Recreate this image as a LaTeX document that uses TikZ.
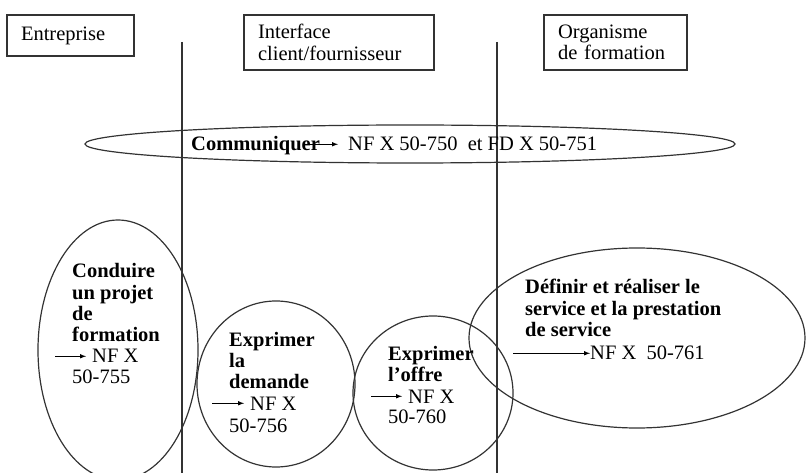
\documentclass[tikz,border=0pt]{standalone}
\usepackage{fontspec}
\setmainfont{Liberation Serif}
\usetikzlibrary{arrows,shapes,positioning}
\newcommand{\tailletexte}{\fontsize{20.5}{21.5}\selectfont}
\tikzset{
    cadre/.style={
           rectangle,
           draw=black!80, line width=1.2pt,
           align=left,
           inner xsep=14pt,
           inner ysep=0pt,
           },
    bulle/.style={
           ellipse,
           draw=black!80, line width=1.2pt,
           inner sep=0,
           },
    pil/.style={
           -latex,
           line width=1pt,
           shorten >=6pt,
           },
    titre/.style={
           font=\tailletexte\bfseries,
           align=left,
           anchor=base west,
           inner sep=0,
           },
    norme/.style={
           font=\tailletexte,
           anchor=base west,
           inner sep=0,
           }
}

\begin{document}
\begin{tikzpicture}[x=1pt,y=-1pt,font=\tailletexte]
\useasboundingbox (0,0) rectangle (807,473);
% les trois acteurs
\node[cadre, text width=99pt, minimum height=41pt] (ent) at (70.5,35.5) {Entreprise};
\node[cadre, text width=162pt, minimum height=55pt] (int) at (339,42.5) {Interface\\client/fournisseur};
\node[cadre, text width=115pt, minimum height=55pt] (org) at (615.5,42.5) {Organisme\\de formation};
% separations
\coordinate (s1h) at (182,42);
\coordinate (s1b) at (182,473);
\coordinate (s2h) at (497,42);
\coordinate (s2b) at (497,473);
\draw[black!80, line width=1.2pt] (s1h) -- (s1b);
\draw[black!80, line width=1.2pt] (s2h) -- (s2b);
% les bulles
\node[bulle, minimum width=650pt, minimum height=38pt] (com) at (410,144) {};
\node[bulle, minimum width=160pt, minimum height=260pt] (proj) at (118,350) {};
\node[bulle, minimum width=158pt, minimum height=166pt] (dem) at (276,384) {};
\node[bulle, minimum width=160pt, minimum height=154pt] (off) at (433,393) {};
\node[bulle, minimum width=336pt, minimum height=180pt] (serv) at (637,338) {};
% textes (base = ligne du bas)
\node[titre] (tcom) at (191,151) {Communiquer};
\node[norme] (ncom) at (348,151) {NF X 50-750\ \ et FD X 50-751};
\coordinate (acom) at (305,0);
\draw[pil, shorten >=10pt] (acom |- ncom.west) -- (ncom.west);
\node[titre] (tproj) at (72,342) {Conduire\\un projet\\de\\formation};
\node[norme] (nproj) at (92,363) {NF X};
\node[norme] (nprojb) at (72,384) {50-755};
\coordinate (aproj) at (55,0);
\draw[pil] (aproj |- nproj.west) -- (nproj.west);
\node[titre] (tdem) at (229,389) {Exprimer\\la\\demande};
\node[norme] (ndem) at (250,410) {NF X};
\node[norme] (ndemb) at (229,432) {50-756};
\coordinate (adem) at (212,0);
\draw[pil] (adem |- ndem.west) -- (ndem.west);
\node[titre] (toff) at (388,382) {Exprimer\\l’offre};
\node[norme] (noff) at (408,403) {NF X};
\node[norme] (noffb) at (388,424) {50-760};
\coordinate (aoff) at (371,0);
\draw[pil] (aoff |- noff.west) -- (noff.west);
\node[titre] (tserv) at (525,337) {Définir et réaliser le\\service et la prestation\\de service};
\node[norme] (nserv) at (590,360) {NF X\ \ 50-761};
\coordinate (aserv) at (513,0);
\draw[pil, shorten >=0pt] (aserv |- nserv.west) -- (nserv.west);
\end{tikzpicture}
\end{document}
